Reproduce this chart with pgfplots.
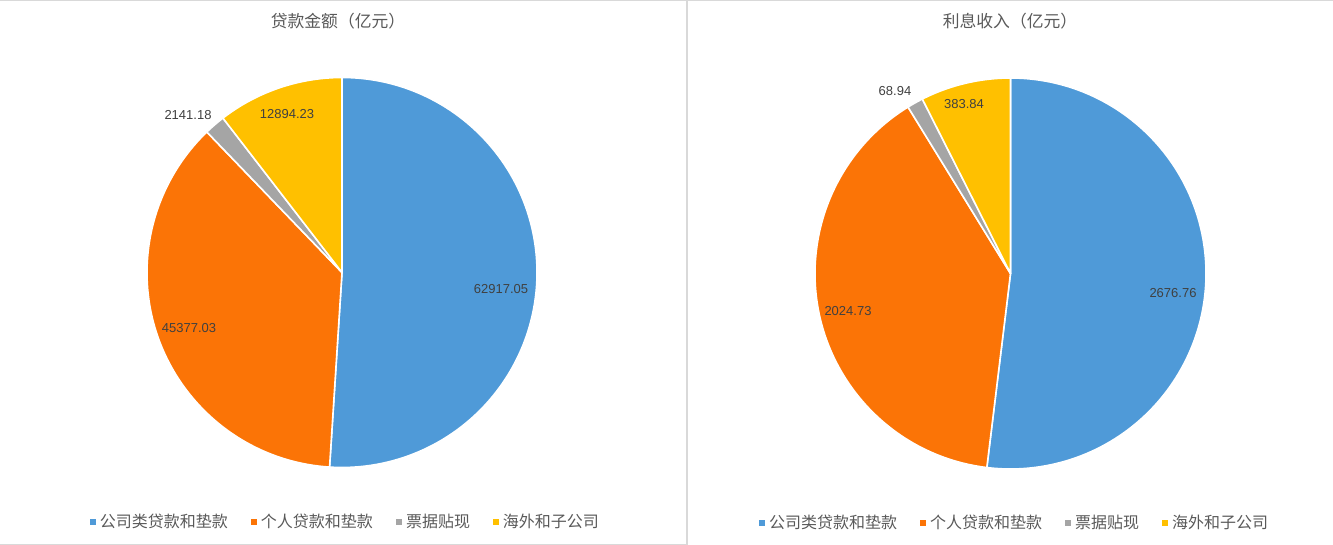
\documentclass[border=0pt]{standalone}
\usepackage{fontspec}
\setmainfont{Liberation Sans}
\newfontfamily\cjk{Noto Sans CJK SC}
\usepackage{pgfplots}
\usepackage{pgfplotstable}
\pgfplotsset{compat=1.18}

\definecolor{cblue}{HTML}{4F9AD8}
\definecolor{corange}{HTML}{FB7406}
\definecolor{cgray}{HTML}{A5A5A5}
\definecolor{cyellow}{HTML}{FFC000}
\definecolor{titlegray}{HTML}{595959}
\definecolor{labelgray}{HTML}{404040}
\definecolor{framegray}{HTML}{D9D9D9}

% 贷款金额（亿元）
\pgfplotstableread{
value colour
62917.05 cblue
45377.03 corange
2141.18 cgray
12894.23 cyellow
}\loans

% 利息收入（亿元）
\pgfplotstableread{
value colour
2676.76 cblue
2024.73 corange
68.94 cgray
383.84 cyellow
}\interest

% slices of a pie, clockwise from 12 o'clock, inside the current axis
% #1 table, #2 centre x, #3 centre y (axis units), #4 radius
\newcommand\pieslices[4]{%
  \pgfplotsextra{%
    \gdef\pietotal{0}%
    \pgfplotstableforeachcolumnelement{value}\of#1\as\cell{%
      \xdef\pietotal{\fpeval{\pietotal+\cell}}}%
    \gdef\piecum{0}%
    \pgfplotstablegetrowsof{#1}%
    \pgfmathtruncatemacro\pielast{\pgfplotsretval-1}%
    \foreach \i in {0,...,\pielast}{%
      \pgfplotstablegetelem{\i}{value}\of#1\let\sliceval\pgfplotsretval
      \pgfplotstablegetelem{\i}{colour}\of#1\let\slicecol\pgfplotsretval
      \edef\angA{\fpeval{90-360*\piecum/\pietotal}}%
      \xdef\piecum{\fpeval{\piecum+\sliceval}}%
      \edef\angB{\fpeval{90-360*\piecum/\pietotal}}%
      \fill[\slicecol, draw=white, line width=0.8pt, line join=round]
        (axis cs:#2,#3) -- ++(\angA:#4)
        arc[start angle=\angA, end angle=\angB, radius=#4] -- cycle;
    }%
  }%
}

\pgfplotsset{
  pie panel/.style={
    scale only axis, height=272.5pt,
    ymin=0, ymax=545,
    hide axis, clip=false,
    legend columns=4,
    legend image code/.code={\fill[##1] (0pt,-1.3pt) rectangle (2.6pt,1.3pt);},
    legend style={draw=none, fill=none, anchor=center,
      font=\cjk\fontsize{8}{9.6}\selectfont, text=titlegray,
      /tikz/every even column/.append style={column sep=9.5pt}},
  },
}

\tikzset{
  title/.style={font=\cjk\fontsize{8.4}{10}\selectfont, text=titlegray},
  val/.style={font=\fontsize{6.5}{7.8}\selectfont, text=labelgray},
}

\begin{document}
\begin{tikzpicture}
\path[use as bounding box] (0,0) rectangle (666.5pt,272.5pt);

\begin{axis}[pie panel, at={(0pt,0pt)}, anchor=south west,
    width=343.5pt, xmin=0, xmax=687,
    legend style={at={(axis cs:346.5,23)}}]
  \draw[framegray, line width=0.6pt] (axis cs:0,544.5) -- (axis cs:1333,544.5);
  \draw[framegray, line width=0.6pt] (axis cs:687,545) -- (axis cs:687,0.8) -- (axis cs:0,0.8);
  \pieslices{\loans}{342}{272.5}{97.5pt}
  \node[title] at (axis cs:338,524) {贷款金额（亿元）};
  \node[val] at (axis cs:501,256) {62917.05};
  \node[val] at (axis cs:189,217) {45377.03};
  \node[val] at (axis cs:188,430) {2141.18};
  \node[val] at (axis cs:287,431) {12894.23};
  \addlegendimage{cblue}\addlegendentry{公司类贷款和垫款}
  \addlegendimage{corange}\addlegendentry{个人贷款和垫款}
  \addlegendimage{cgray}\addlegendentry{票据贴现}
  \addlegendimage{cyellow}\addlegendentry{海外和子公司}
\end{axis}

\begin{axis}[pie panel, at={(343.5pt,0pt)}, anchor=south west,
    width=323pt, xmin=687, xmax=1333,
    legend style={at={(axis cs:1015.5,22)}}]
  \pieslices{\interest}{1010.5}{271.5}{97.75pt}
  \node[title] at (axis cs:1010,524) {利息收入（亿元）};
  \node[val] at (axis cs:1173,252) {2676.76};
  \node[val] at (axis cs:848,234) {2024.73};
  \node[val] at (axis cs:895,454) {68.94};
  \node[val] at (axis cs:964,441) {383.84};
  \addlegendimage{cblue}\addlegendentry{公司类贷款和垫款}
  \addlegendimage{corange}\addlegendentry{个人贷款和垫款}
  \addlegendimage{cgray}\addlegendentry{票据贴现}
  \addlegendimage{cyellow}\addlegendentry{海外和子公司}
\end{axis}
\end{tikzpicture}
\end{document}
